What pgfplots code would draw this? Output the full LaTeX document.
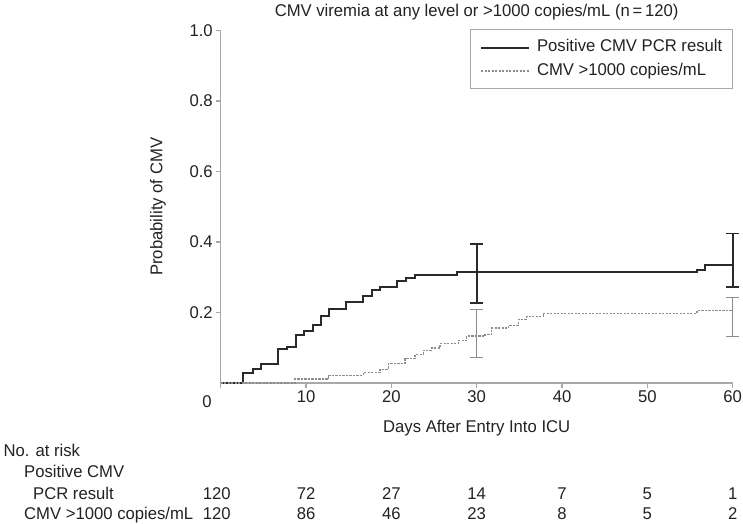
\documentclass[border=0pt]{standalone}
\usepackage{fontspec}
\setmainfont{Liberation Sans}[FakeStretch=0.98]
\usepackage{pgfplots}
\pgfplotsset{compat=1.18}
\definecolor{axisgray}{HTML}{A8A8A8}
\definecolor{txt}{HTML}{222222}
\definecolor{curvedark}{HTML}{2A2A2A}
\definecolor{dotgray}{HTML}{8C8C8C}

\begin{document}
\begin{tikzpicture}[font=\fontsize{17bp}{20bp}\selectfont, text=txt]
\begin{axis}[
    name=ax,
    scale only axis,
    width=512bp, height=352.5bp,
    xmin=0, xmax=60, ymin=0, ymax=1,
    axis x line=bottom, axis y line=left,
    axis line style={axisgray, line width=1.6bp, -},
    xtick={0,10,20,30,40,50,60},
    xticklabels={,10,20,30,40,50,60},
    ytick={0.2,0.4,0.6,0.8,1.0},
    yticklabels={0.2,0.4,0.6,0.8,1.0},
    tick align=outside,
    major tick length=4.5bp,
    tick style={axisgray, line width=1.2bp},
    clip=false,
    every axis title shift=0pt,
    title={CMV viremia at any level or >1000 copies/mL (n\,=\,120)},
    title style={at={(axis description cs:0.5,1.0391)}, anchor=base},
    xlabel={Days After Entry Into ICU},
    xlabel style={at={(axis description cs:0.5,-0.139)}, anchor=base},
    ylabel={Probability of CMV},
    ylabel style={at={(axis description cs:-0.1223,0.5)}, anchor=center},
    legend style={at={(rel axis cs:1,1)}, anchor=north east, yshift=1bp,
        draw=axisgray, line width=0.9bp, fill=white,
        inner xsep=10bp, inner ysep=10bp, row sep=7.9bp,
        nodes={inner sep=0bp, text height=12bp, text depth=3.5bp}},
    legend cell align=left,
    legend image code/.code={\draw[#1] (0bp,0bp) -- (48bp,0bp); \path (55bp,0bp);},
]

% Kaplan-Meier curves
\addplot[const plot, curvedark, line width=1.9bp] coordinates {
    (0,0) (2.65,0.028) (3.75,0.039) (4.72,0.055) (6.68,0.097) (7.74,0.103)
    (8.79,0.137) (9.80,0.148) (10.79,0.164) (11.72,0.189) (12.66,0.211)
    (14.65,0.230) (16.72,0.246) (17.77,0.263) (18.68,0.273) (20.63,0.290)
    (21.69,0.299) (22.78,0.307) (27.67,0.314) (55.8,0.320) (56.78,0.334)
    (60,0.334)
};
\addlegendentry{Positive CMV PCR result}

\addplot[const plot, dotgray, line width=1.3bp, dash pattern=on 2.2bp off 1.3bp] coordinates {
    (0,0) (8.71,0.011) (12.61,0.022) (16.72,0.030) (18.68,0.039) (19.65,0.055)
    (21.6,0.069) (22.78,0.081) (23.75,0.093) (24.74,0.099) (25.71,0.112)
    (27.85,0.121) (28.84,0.133) (30.98,0.137) (31.77,0.156) (33.72,0.164)
    (34.89,0.181) (35.87,0.189) (37.82,0.197) (55.8,0.205) (60,0.205)
};
\addlegendentry{CMV >1000 copies/mL}

% confidence intervals
\addplot[forget plot, draw=none, mark=none,
    error bars/.cd, y dir=both, y explicit,
    error bar style={draw=curvedark, line width=1.8bp},
    error mark options={rotate=90, mark size=6.3bp, draw=curvedark, line width=1.8bp}]
    coordinates {(30,0.314) += (0,0.081) -= (0,0.086)
                 (60,0.334) += (0,0.090) -= (0,0.061)};
\addplot[forget plot, draw=none, mark=none,
    error bars/.cd, y dir=both, y explicit,
    error bar style={draw=dotgray, line width=1.2bp},
    error mark options={rotate=90, mark size=6.3bp, draw=dotgray, line width=1.2bp}]
    coordinates {(30,0.133) += (0,0.076) -= (0,0.061)
                 (60,0.205) += (0,0.038) -= (0,0.074)};

% x label 0 (set left of the origin, as in the original)
\node[anchor=base, xshift=-13.7bp, yshift=-24.5bp] at (axis cs:0,0) {0};

% number at risk table
\node[anchor=base west, xshift=-220.7bp, yshift=-73bp] at (rel axis cs:0,0) {No. at risk};
\node[anchor=base west, xshift=-200bp, yshift=-94.3bp] at (rel axis cs:0,0) {Positive CMV};
\node[anchor=base west, xshift=-191bp, yshift=-116bp] at (rel axis cs:0,0) {PCR result};
\node[anchor=base west, xshift=-200bp, yshift=-136bp] at (rel axis cs:0,0) {CMV >1000 copies/mL};

\node[anchor=base, xshift=-4bp, yshift=-116bp] at (axis cs:0,0) {120};
\node[anchor=base, yshift=-116bp] at (axis cs:10,0) {72};
\node[anchor=base, yshift=-116bp] at (axis cs:20,0) {27};
\node[anchor=base, yshift=-116bp] at (axis cs:30,0) {14};
\node[anchor=base, yshift=-116bp] at (axis cs:40,0) {7};
\node[anchor=base, yshift=-116bp] at (axis cs:50,0) {5};
\node[anchor=base, yshift=-116bp] at (axis cs:60,0) {1};

\node[anchor=base, xshift=-4bp, yshift=-136bp] at (axis cs:0,0) {120};
\node[anchor=base, yshift=-136bp] at (axis cs:10,0) {86};
\node[anchor=base, yshift=-136bp] at (axis cs:20,0) {46};
\node[anchor=base, yshift=-136bp] at (axis cs:30,0) {23};
\node[anchor=base, yshift=-136bp] at (axis cs:40,0) {8};
\node[anchor=base, yshift=-136bp] at (axis cs:50,0) {5};
\node[anchor=base, yshift=-136bp] at (axis cs:60,0) {2};
\end{axis}
\pgfresetboundingbox
\path[use as bounding box] ([shift={(-220.7bp,-141bp)}]ax.south west) rectangle ([shift={(522.3bp,383bp)}]ax.south west);
\end{tikzpicture}
\end{document}
